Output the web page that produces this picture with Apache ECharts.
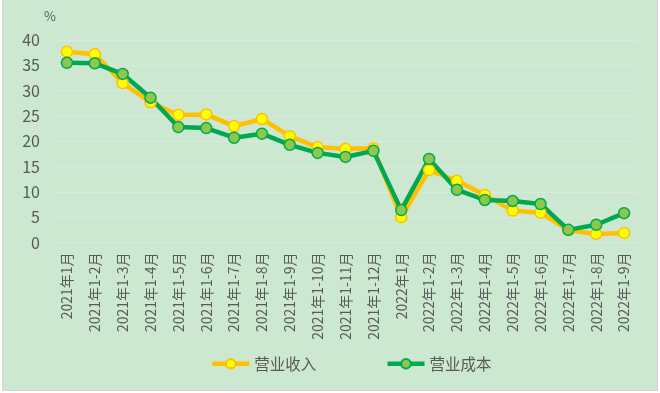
<!DOCTYPE html>
<html><head><meta charset="utf-8">
<script src="https://cdn.jsdelivr.net/npm/echarts@6/dist/echarts.min.js"></script>
<style>
html,body{margin:0;padding:0;background:#fff;}
#wrap{position:absolute;left:2px;top:0;width:654px;height:390px;background:#cde8d1;border:1px solid #d4d4d4;border-top:none;}
#c{position:absolute;left:0;top:0;width:660px;height:393px;}
</style></head>
<body><div id="wrap"></div><div id="c"></div>
<script>
const categories = ['2021年1月','2021年1-2月','2021年1-3月','2021年1-4月','2021年1-5月','2021年1-6月','2021年1-7月','2021年1-8月','2021年1-9月','2021年1-10月','2021年1-11月','2021年1-12月','2022年1月','2022年1-2月','2022年1-3月','2022年1-4月','2022年1-5月','2022年1-6月','2022年1-7月','2022年1-8月','2022年1-9月'];
const revenue = [37.7,37.2,31.5,27.7,25.2,25.3,23.0,24.4,21.0,18.8,18.5,18.6,5.0,14.3,12.2,9.4,6.3,5.9,2.4,1.7,1.9];
const cost = [35.5,35.4,33.3,28.6,22.8,22.6,20.7,21.5,19.3,17.7,16.9,18.1,6.4,16.5,10.4,8.4,8.2,7.6,2.5,3.5,5.8];
const yTicks = {min:0, max:40, interval:5};
const chart = echarts.init(document.getElementById('c'));
const lab = {color:'#595959', fontFamily:'Noto Sans CJK SC'};
chart.setOption({
  animation:false,
  grid:{left:53,right:22,top:40,bottom:150.5},
  legend:{top:356,left:210,padding:0,itemGap:69,itemWidth:37,itemHeight:12,
    lineStyle:{width:4.5},
    textStyle:{color:'#595959',fontSize:15.5,fontFamily:'Noto Sans CJK SC'},
    data:['营业收入','营业成本']},
  xAxis:{type:'category',data:categories,
    axisLine:{show:true,lineStyle:{color:'#dbe9dc'}},axisTick:{show:false},
    axisLabel:Object.assign({rotate:90,fontSize:14,margin:10,interval:0},lab)},
  yAxis:{type:'value',min:yTicks.min,max:yTicks.max,interval:yTicks.interval,
    name:'%',nameGap:17,nameTextStyle:Object.assign({fontSize:13,align:'left',padding:[0,0,0,-9]},lab),
    axisLine:{show:false},axisTick:{show:false},
    axisLabel:Object.assign({fontSize:16,margin:13},lab),
    splitLine:{lineStyle:{color:'#dbe9dc',width:1}}},
  series:[
    {name:'营业收入',type:'line',data:revenue,symbol:'circle',symbolSize:11,
      lineStyle:{color:'#ffc000',width:4.5},
      itemStyle:{color:'#ffff00',borderColor:'#ffc000',borderWidth:1.5}},
    {name:'营业成本',type:'line',data:cost,symbol:'circle',symbolSize:11,
      lineStyle:{color:'#00a84f',width:4.5},
      itemStyle:{color:'#8cc84b',borderColor:'#00a84f',borderWidth:1.5}}
  ]
});
</script></body></html>
